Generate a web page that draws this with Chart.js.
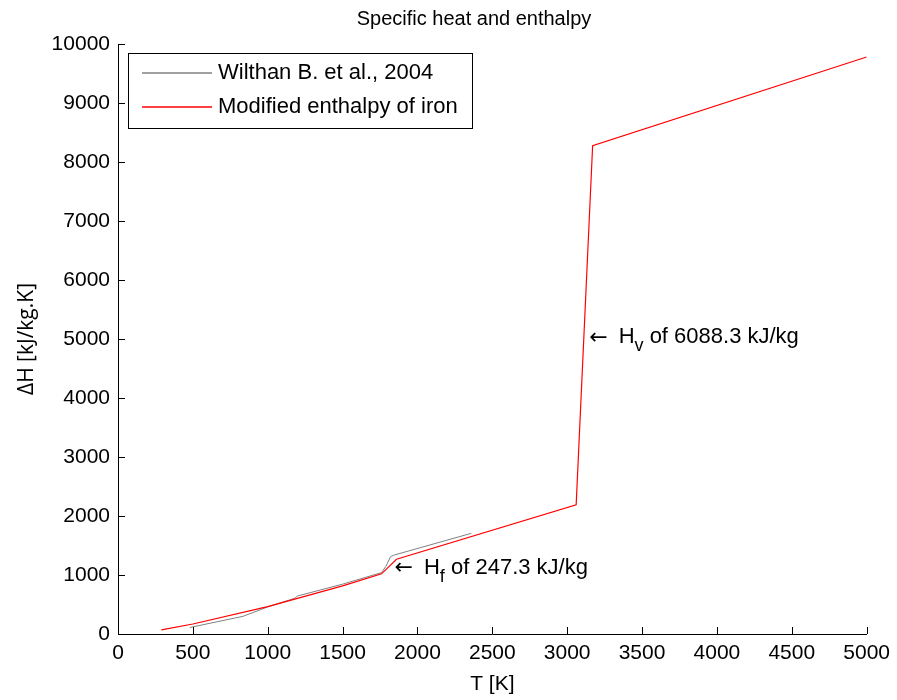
<!DOCTYPE html>
<html>
<head>
<meta charset="utf-8">
<title>Specific heat and enthalpy</title>
<script src="https://cdn.jsdelivr.net/npm/chart.js@4"></script>
<style>
  html, body { margin: 0; padding: 0; background: #fff; }
  #wrap { width: 897px; height: 700px; }
</style>
</head>
<body>
<div id="wrap"><canvas id="chart" width="897" height="700"></canvas></div>
<script>
// temperature [K] and enthalpy rise [kJ/kg]
const wilthanT = [480, 835, 950, 1000, 1180, 1200, 1500, 1760, 1790, 1820, 1840, 2360];
const wilthanH = [110, 300, 410, 460, 605, 645, 845, 1040, 1150, 1310, 1335, 1707];

const modelT = [290, 500, 1000, 1500, 1760, 1860, 3060, 3170, 5000];
const modelH = [70, 170, 465, 815, 1020, 1267.3, 2190, 8278.3, 9780];

const xTicks = [0, 500, 1000, 1500, 2000, 2500, 3000, 3500, 4000, 4500, 5000];
const yTicks = [0, 1000, 2000, 3000, 4000, 5000, 6000, 7000, 8000, 9000, 10000];

const GRAY = 'rgb(128,128,128)';
const RED = 'rgb(255,0,0)';

// latent heat notes: main text, subscript, tail, and where the arrow sits
const notes = [
  { head: 'H', sub: 'v', tail: ' of 6088.3 kJ/kg', T: 3147, H: 5030 },
  { head: 'H', sub: 'f', tail: ' of 247.3 kJ/kg', T: 1847, H: 1125 }
];

const FONT = '"Liberation Sans", Arial, Helvetica, sans-serif';

function toPoints(xs, ys) {
  return xs.map((x, i) => ({ x: x, y: ys[i] }));
}

// MATLAB style: ticks point into the axes, no box
const inwardTicks = {
  id: 'inwardTicks',
  afterDraw(chart) {
    const ctx = chart.ctx;
    const a = chart.chartArea;
    const xs = chart.scales.x, ys = chart.scales.y;
    ctx.save();
    ctx.strokeStyle = '#000';
    ctx.lineWidth = 1;
    ctx.beginPath();
    xTicks.forEach(v => {
      const px = Math.round(xs.getPixelForValue(v)) + 0.5;
      ctx.moveTo(px, a.bottom);
      ctx.lineTo(px, a.bottom - 7);
    });
    yTicks.forEach(v => {
      const py = Math.round(ys.getPixelForValue(v)) + 0.5;
      ctx.moveTo(a.left, py);
      ctx.lineTo(a.left + 7, py);
    });
    ctx.stroke();
    ctx.restore();
  }
};

const figureText = {
  id: 'figureText',
  afterDraw(chart) {
    const ctx = chart.ctx;
    const xs = chart.scales.x, ys = chart.scales.y;
    ctx.save();
    ctx.fillStyle = '#000';

    // title
    ctx.font = '20px ' + FONT;
    ctx.textAlign = 'center';
    ctx.textBaseline = 'middle';
    ctx.fillText('Specific heat and enthalpy', 474, 19);

    // arrow + text with subscript
    ctx.textAlign = 'left';
    notes.forEach(n => {
      let x = xs.getPixelForValue(n.T);
      const y = ys.getPixelForValue(n.H);
      ctx.font = '22px "DejaVu Sans", sans-serif';
      ctx.fillText('\u2190', x, y + 1);
      x += ctx.measureText('\u2190').width + 11;
      ctx.font = '22px ' + FONT;
      ctx.fillText(n.head, x, y);
      x += ctx.measureText(n.head).width;
      ctx.font = '18px ' + FONT;
      ctx.fillText(n.sub, x, y + 9);
      x += ctx.measureText(n.sub).width;
      ctx.font = '22px ' + FONT;
      ctx.fillText(n.tail, x, y);
    });
    ctx.restore();
  }
};

const boxLegend = {
  id: 'boxLegend',
  afterDraw(chart) {
    const ctx = chart.ctx;
    const a = chart.chartArea;
    const left = a.left + 10, top = a.top + 9;
    const w = 344, h = 75;
    const colors = [GRAY, RED];
    ctx.save();
    ctx.fillStyle = '#fff';
    ctx.fillRect(left, top, w, h);
    ctx.strokeStyle = '#000';
    ctx.lineWidth = 1;
    ctx.strokeRect(left + 0.5, top + 0.5, w, h);
    ctx.font = '22px ' + FONT;
    ctx.textBaseline = 'middle';
    ctx.textAlign = 'left';
    chart.data.datasets.forEach((ds, i) => {
      const y = Math.round(top + 20 + i * 34);
      ctx.strokeStyle = colors[i];
      ctx.lineWidth = 1.4;
      ctx.beginPath();
      ctx.moveTo(left + 14, y);
      ctx.lineTo(left + 84, y);
      ctx.stroke();
      ctx.fillStyle = '#000';
      ctx.fillText(ds.label, left + 90, y);
    });
    ctx.restore();
  }
};

const ctx = document.getElementById('chart').getContext('2d');
const chart = new Chart(ctx, {
  type: 'scatter',
  data: {
    datasets: [
      {
        label: 'Wilthan B. et al., 2004',
        data: toPoints(wilthanT, wilthanH),
        borderColor: GRAY,
        borderWidth: 1,
        showLine: true,
        pointRadius: 0,
        order: 2
      },
      {
        label: 'Modified enthalpy of iron',
        data: toPoints(modelT, modelH),
        borderColor: RED,
        borderWidth: 1.2,
        showLine: true,
        pointRadius: 0,
        order: 1
      }
    ]
  },
  options: {
    responsive: false,
    animation: false,
    layout: { padding: { top: 44, right: 29, left: 0, bottom: 0 } },
    plugins: {
      legend: { display: false },
      title: { display: false },
      tooltip: { enabled: false }
    },
    scales: {
      x: {
        type: 'linear',
        min: 0,
        max: 5000,
        afterBuildTicks: (s) => { s.ticks = xTicks.map(v => ({ value: v })); },
        afterFit: (s) => { s.height = 66; },
        ticks: { color: '#000', font: { family: FONT, size: 21 }, padding: 7, maxRotation: 0, autoSkip: false, callback: (v) => String(v) },
        grid: { display: true, drawOnChartArea: false, drawTicks: false },
        border: { display: true, color: '#000', width: 1 },
        title: { display: true, text: 'T [K]', color: '#000', font: { family: FONT, size: 21 }, padding: { top: 0, bottom: 3 } }
      },
      y: {
        type: 'linear',
        min: 0,
        max: 10000,
        afterBuildTicks: (s) => { s.ticks = yTicks.map(v => ({ value: v })); },
        afterFit: (s) => { s.width = 118; },
        ticks: { color: '#000', font: { family: FONT, size: 21 }, padding: 8, autoSkip: false, callback: (v) => String(v) },
        grid: { display: true, drawOnChartArea: false, drawTicks: false },
        border: { display: true, color: '#000', width: 1 },
        title: { display: true, text: '\u0394H [kJ/kg.K]', color: '#000', font: { family: '"Open Sans", sans-serif', size: 21 }, padding: { top: 14, bottom: 0 } }
      }
    }
  },
  plugins: [inwardTicks, boxLegend, figureText]
});
</script>
</body>
</html>
